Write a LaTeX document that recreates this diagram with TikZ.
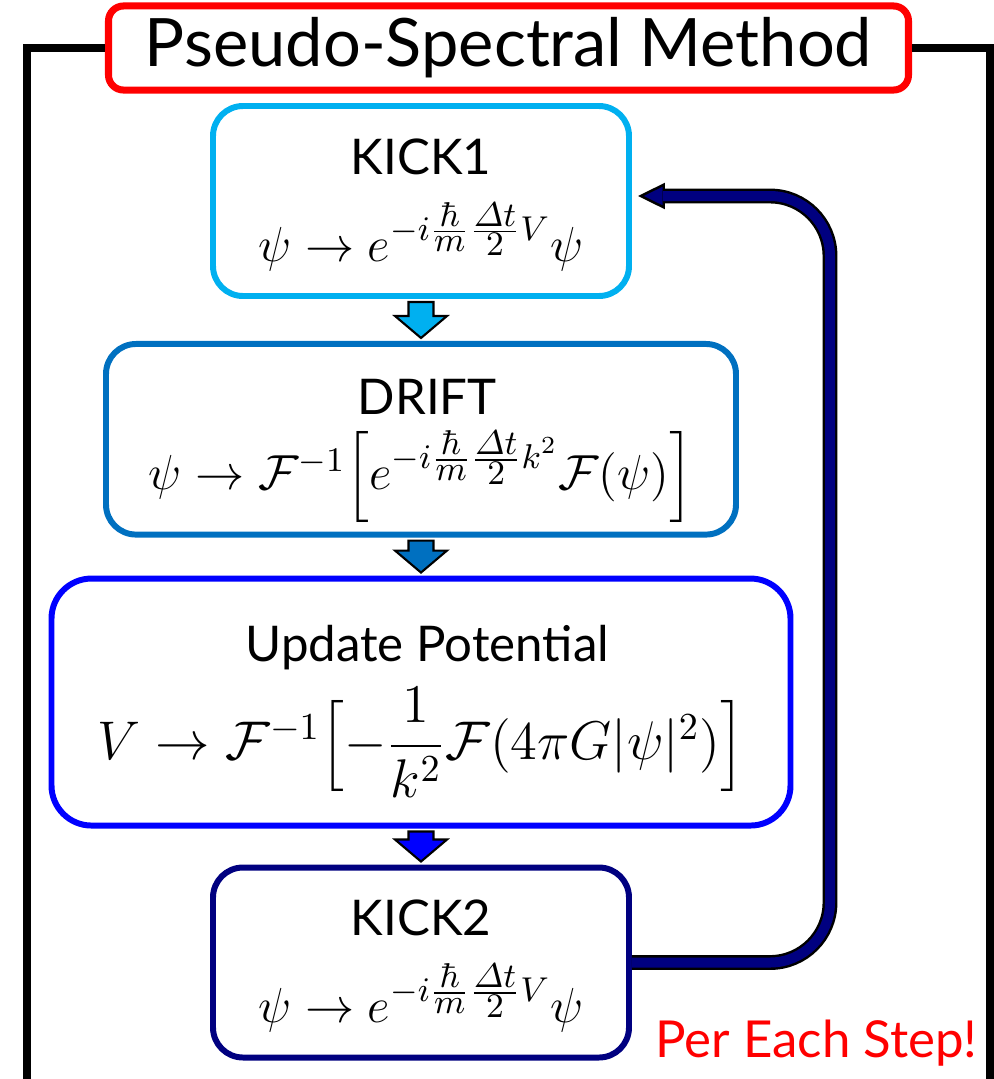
\documentclass[tikz,border=0pt]{standalone}
\usepackage{fix-cm}
\usepackage{amsmath}
\usepackage[no-math]{fontspec}
\setmainfont{Lato}
\usepackage{tikz}
\usetikzlibrary{positioning, calc, arrows.meta}
\definecolor{kickone}{HTML}{00B0F0}
\definecolor{driftblue}{HTML}{0070C0}
\definecolor{potblue}{HTML}{0000FF}
\definecolor{kicktwo}{HTML}{000080}
\newcommand{\kickop}{\psi \rightarrow e^{-i\frac{\scriptstyle\hbar}{\scriptstyle m}\frac{\scriptstyle\varDelta t}{\scriptstyle 2}V}\psi}
\newcommand{\boxstrut}[1][12.3pt]{\rule{0pt}{#1}}
% block arrow from the bottom of one step to the top of the next
\newcommand{\stepflow}[3]{%
  \draw[black, line width=0.6pt, fill=#3]
    ($(#1.south)+(-0.125,-0.03)$) -- ($(#2.north)+(-0.125,0.25)$) -- ++(-0.135,0)
    -- ($(#2.north)+(0,0.03)$) -- ++(0.26,0.22) -- ++(-0.135,0)
    -- ($(#1.south)+(0.125,-0.03)$) -- cycle;}

\begin{document}
\begin{tikzpicture}[
  stepbox/.style={draw, line width=1.7pt, rounded corners=0.3cm, align=center,
    minimum width=4.16cm, minimum height=1.90cm, font=\fontsize{14}{17}\selectfont},
]
  \useasboundingbox (0,0) rectangle (9.94,-10.79);

  % title and outer frame
  \node[draw=red, line width=2pt, rounded corners=0.15cm, minimum width=8.0cm,
    minimum height=0.73cm, font=\fontsize{19}{21}\selectfont] (title) at (5.085,-0.48) {Pseudo-Spectral Method};
  \draw[line width=2.3pt] (title.west) -| (0.27,-10.9);
  \draw[line width=2.3pt] (title.east) -| (9.90,-10.9);

  % the four steps
  \node[stepbox, draw=kickone] (kick1) at (4.21,-2.01) {\boxstrut KICK1\\[7.7pt] $\kickop$};
  \node[stepbox, draw=driftblue, minimum width=6.30cm, below=0.42cm of kick1] (drift)
    {\boxstrut[16.8pt] DRIFT\\[4.3pt] $\psi \rightarrow \mathcal{F}^{-1}\Bigl[e^{-i\frac{\scriptstyle\hbar}{\scriptstyle m}\frac{\scriptstyle\varDelta t}{\scriptstyle 2}k^2}\mathcal{F}(\psi)\Bigr]$};
  \node[stepbox, draw=potblue, minimum width=7.39cm, minimum height=2.47cm, rounded corners=0.4cm,
    below=0.38cm of drift] (update)
    {\boxstrut[15.6pt] Update Potential\\[4pt] {\fontsize{15.5}{18}\selectfont$V \rightarrow \mathcal{F}^{-1}\Bigl[-\dfrac{1}{k^2}\mathcal{F}(4\pi G|\psi|^2)\Bigr]$}};
  \node[stepbox, draw=kicktwo, below=0.36cm of update] (kick2) {\boxstrut KICK2\\[7.7pt] $\kickop$};

  % block arrows between the steps
  \stepflow{kick1}{drift}{kickone}
  \stepflow{drift}{update}{driftblue}
  \stepflow{update}{kick2}{potblue}

  % loop back to the first kick
  \coordinate (turn) at (8.30,-1.96);
  \coordinate (tip) at ($(kick1.east)+(0.06,0.05)$);
  \coordinate (head) at ($(tip)+(0.27,0)$);
  \draw[line width=0.7pt, -{Triangle[length=0.27cm, width=0.26cm, fill=kicktwo]}] (head) -- (tip);
  \draw[draw=black, double=kicktwo, double distance=0.10cm, line width=0.7pt, rounded corners=0.6cm]
    (kick2.east) -| (turn) -- ([xshift=-0.02cm]head);

  \node[text=red, font=\fontsize{14.5}{17}\selectfont, anchor=base] (note) at (8.165,-10.57) {Per Each Step!};
\end{tikzpicture}
\end{document}
